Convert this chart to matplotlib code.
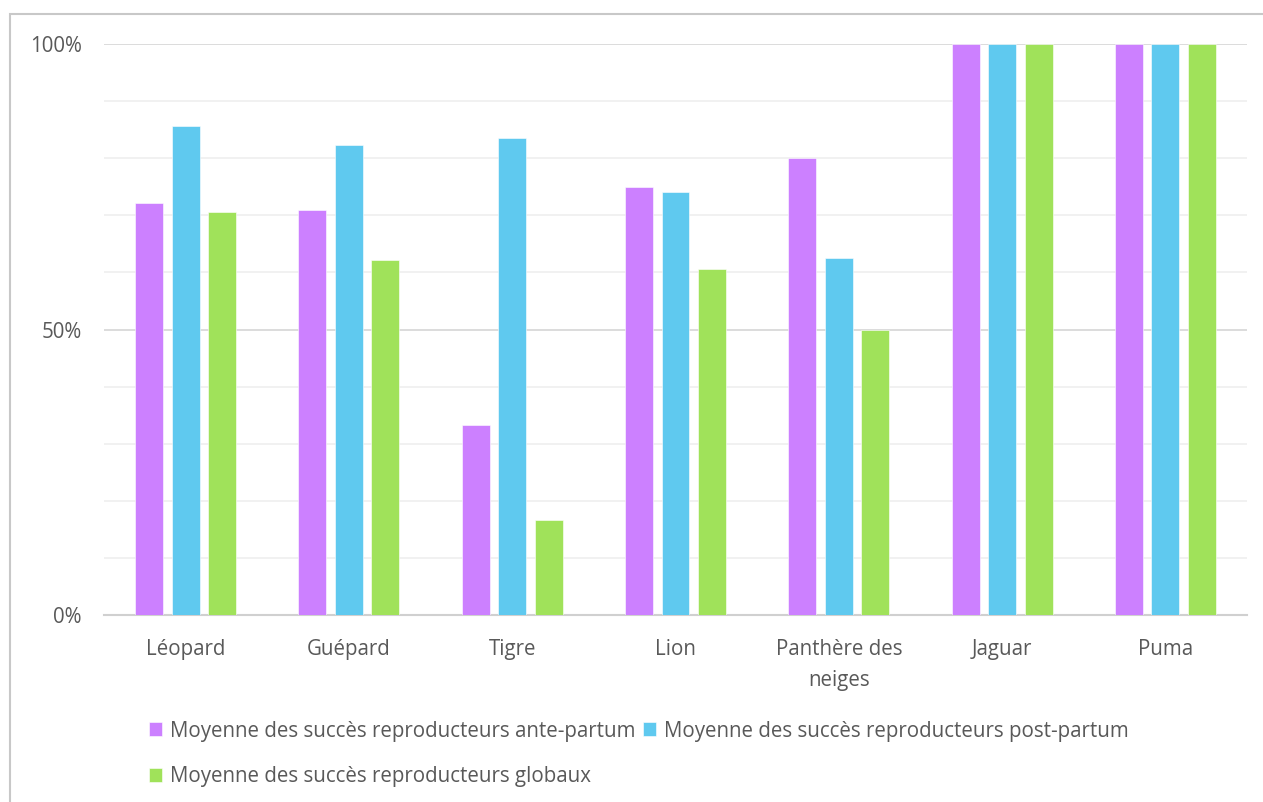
import matplotlib.pyplot as plt
import numpy as np
from matplotlib.patches import Rectangle

# Données
especes = ['Léopard', 'Guépard', 'Tigre', 'Lion', 'Panthère des\nneiges', 'Jaguar', 'Puma']
ante_partum = [0.722, 0.709, 0.333, 0.750, 0.800, 1.0, 1.0]
post_partum = [0.857, 0.823, 0.835, 0.741, 0.625, 1.0, 1.0]
globaux = [0.706, 0.622, 0.167, 0.606, 0.500, 1.0, 1.0]

noms_series = ['Moyenne des succès reproducteurs ante-partum',
               'Moyenne des succès reproducteurs post-partum',
               'Moyenne des succès reproducteurs globaux']
couleurs = ['#CC80FF', '#5FC9EF', '#A0E25A']
gris = '#595959'

plt.rcParams['font.family'] = ['Open Sans', 'DejaVu Sans']

fig = plt.figure(figsize=(12.63, 8.02), dpi=100)
ax = fig.add_axes([104 / 1263, 1 - 615 / 802, 1143 / 1263, 571 / 802])

# Cadre du graphique (coupé à droite et en bas)
fig.patches.append(Rectangle((10 / 1263, -0.1), 1.2, (802 - 14) / 802 + 0.1,
                             transform=fig.transFigure, fill=False,
                             edgecolor='#C8C8C8', linewidth=1.5))

x = np.arange(len(especes))
largeur = 0.171
decalage = 0.2235
barres = []
for i, (vals, coul) in enumerate(zip([ante_partum, post_partum, globaux], couleurs)):
    b = ax.bar(x + (i - 1) * decalage, vals, largeur, color=coul,
               edgecolor='white', linewidth=0.4, zorder=3, label=noms_series[i])
    barres.append(b)

ax.set_xlim(-0.5, len(especes) - 0.5)
ax.set_ylim(0, 1)
ax.set_yticks([0, 0.5, 1])
ax.set_yticklabels(['0%', '50%', '100%'])
ax.set_yticks(np.arange(0.1, 1.0, 0.1), minor=True)
ax.set_xticks(x)
ax.set_xticklabels(especes, linespacing=1.6)

ax.grid(axis='y', which='major', color='#D9D9D9', linewidth=1.3, zorder=0)
ax.grid(axis='y', which='minor', color='#F0F0F0', linewidth=1.3, zorder=0)
for s in ['top', 'right', 'left']:
    ax.spines[s].set_visible(False)
ax.spines['bottom'].set_color('#D0D0D0')
ax.spines['bottom'].set_linewidth(1.5)

ax.tick_params(axis='both', which='both', length=0, labelcolor=gris, labelsize=14.8)
ax.tick_params(axis='y', pad=16)
ax.tick_params(axis='x', pad=17.5)

# Légende sur deux lignes
handles = [barres[0], barres[2], barres[1]]
labels = [noms_series[0], noms_series[2], noms_series[1]]
fig.legend(handles, labels, ncol=2, loc='upper left',
           bbox_to_anchor=(130 / 1263, 1 - 702 / 802), frameon=False,
           fontsize=14.8, labelcolor=gris, handlelength=0.65, handleheight=0.65,
           handletextpad=0.4, columnspacing=0.35, labelspacing=1.2)

fig.savefig('out.png', dpi=100, facecolor='white')
